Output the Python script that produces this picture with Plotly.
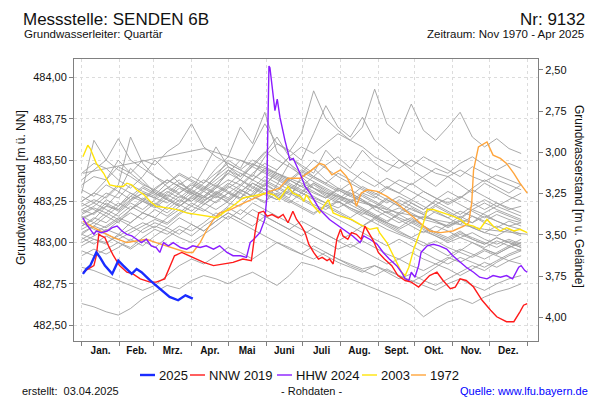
import plotly.graph_objects as go

# ---------------- data ----------------
month_labels = ["Jan.", "Feb.", "Mrz.", "Apr.", "Mai", "Juni", "Juli", "Aug.", "Sept.", "Okt.", "Nov.", "Dez."]
month_mid = [15.5, 45, 74.5, 105, 135.5, 166, 196.5, 227.5, 258, 288.5, 319, 349.5]
month_starts = [0, 31, 59, 90, 120, 151, 181, 212, 243, 273, 304, 334, 365]
level_ticks = [482.50, 482.75, 483.00, 483.25, 483.50, 483.75, 484.00]
depth_ticks = [2.50, 2.75, 3.00, 3.25, 3.50, 3.75, 4.00]
ground_level = 486.547  # Geländehöhe [m ü. NN]

# 2025
y2025_days = [1, 4, 7, 10, 12, 15, 19, 25, 30, 34, 41, 45, 49, 56, 64, 72, 79, 85, 91]
y2025_vals = [482.81, 482.84, 482.86, 482.91, 482.94, 482.91, 482.86, 482.81, 482.89, 482.86,
              482.81, 482.84, 482.82, 482.77, 482.72, 482.67, 482.65, 482.68, 482.66]

# NNW 2019
nnw_days = [1, 5, 10, 12, 14, 16, 19, 22, 26, 31, 37, 42, 48, 56, 61, 68, 72, 76, 82, 91,
            100, 108, 116, 124, 132, 139, 142, 145, 149, 152, 156, 161, 165, 169, 173, 176, 180, 183, 186, 190,
            194, 197, 201, 203, 206, 209, 212, 214, 218, 221, 225, 229, 232, 235, 239, 243, 248, 254, 259, 265,
            270, 276, 280, 285, 291, 296, 302, 306, 310, 315, 321, 328, 335, 340, 348, 354, 359, 362, 365]
nnw_vals = [482.82, 482.84, 482.86, 482.92, 483.05, 483.04, 483.03, 482.98, 482.92, 482.86, 482.82, 482.81, 482.78, 482.76, 482.76, 482.78, 482.85, 482.92, 482.94, 482.91,
            482.88, 482.86, 482.87, 482.88, 482.90, 482.89, 483.06, 483.18, 483.19, 483.16, 483.17, 483.15, 483.17, 483.12, 483.19, 483.14, 483.10, 483.06, 482.99, 482.94,
            482.90, 482.91, 482.89, 482.90, 482.87, 483.02, 483.08, 483.04, 483.02, 483.06, 483.05, 483.02, 483.10, 483.06, 483.01, 482.94, 482.90, 482.86, 482.80, 482.77,
            482.76, 482.73, 482.76, 482.80, 482.82, 482.77, 482.72, 482.73, 482.78, 482.77, 482.73, 482.65, 482.59, 482.55, 482.52, 482.52, 482.58, 482.62, 482.63]

# HHW 2024
hhw_days = [1, 4, 7, 10, 12, 16, 21, 25, 29, 33, 37, 41, 45, 49, 53, 57, 61, 64, 67, 71,
            75, 81, 86, 91, 97, 102, 108, 113, 119, 124, 130, 135, 138, 141, 146, 150, 151.5, 153.4, 154.2, 157,
            158.3, 160.2, 162.4, 166.5, 170.6, 173.3, 178.8, 183, 187, 191, 195, 203, 214, 222, 228, 231, 236, 242, 247, 252,
            258, 262, 265, 268, 270, 273, 276, 278, 283, 288, 293, 299, 304, 310, 315, 321, 326, 332, 337, 343,
            348, 353, 358, 360, 363, 365]
hhw_vals = [483.15, 483.11, 483.08, 483.05, 483.07, 483.06, 483.07, 483.09, 483.10, 483.07, 483.05, 483.04, 483.02, 483.00, 483.02, 482.98, 482.97, 482.94, 483.00, 482.98,
            483.00, 482.97, 482.96, 482.98, 482.97, 482.98, 482.96, 482.98, 482.94, 482.92, 482.92, 482.91, 483.00, 483.02, 483.06, 483.14, 483.26, 484.07, 484.06, 483.88,
            483.80, 483.87, 483.76, 483.62, 483.50, 483.51, 483.42, 483.34, 483.30, 483.25, 483.20, 483.14, 483.08, 483.04, 483.00, 483.04, 483.02, 482.99, 482.94, 482.90,
            482.86, 482.82, 482.78, 482.77, 482.82, 482.79, 482.86, 482.94, 482.98, 482.99, 482.98, 482.96, 482.92, 482.88, 482.85, 482.82, 482.79, 482.78, 482.80, 482.79,
            482.80, 482.78, 482.85, 482.86, 482.83, 482.82]

# 2003
y2003_days = [1, 5, 7, 12, 18, 23, 29, 34, 37, 41, 45, 51, 56, 61, 70, 78, 86, 94, 102, 111,
              116, 122, 127, 132, 138, 145, 152, 157, 162, 169, 173, 179, 182, 184, 190, 195, 198, 202, 206, 212,
              221, 228, 236, 242, 244, 250, 254, 258, 262, 265, 268, 272, 276, 280, 283, 288, 296, 304, 310, 315,
              321, 326, 332, 337, 343, 348, 354, 359, 365]
y2003_vals = [483.52, 483.59, 483.57, 483.48, 483.42, 483.35, 483.34, 483.34, 483.36, 483.35, 483.32, 483.29, 483.25, 483.22, 483.21, 483.20, 483.18, 483.17, 483.16, 483.15,
              483.18, 483.21, 483.24, 483.27, 483.28, 483.29, 483.30, 483.29, 483.26, 483.34, 483.30, 483.28, 483.25, 483.29, 483.22, 483.18, 483.22, 483.26, 483.18, 483.16,
              483.14, 483.11, 483.08, 483.09, 483.06, 483.00, 482.94, 482.88, 482.82, 482.80, 482.85, 482.96, 483.04, 483.12, 483.20, 483.20, 483.18, 483.16, 483.14, 483.11,
              483.10, 483.08, 483.14, 483.10, 483.07, 483.09, 483.07, 483.08, 483.06]

# 1972
y1972_days = [1, 10, 18, 26, 37, 45, 53, 61, 70, 78, 86, 91, 97, 102, 108, 113, 122, 130, 139, 149,
              154, 162, 169, 179, 187, 195, 199, 205, 212, 217, 221, 225, 229, 234, 242, 250, 258, 266, 274, 285,
              294, 304, 313, 317, 319.5, 321, 325, 332, 337, 343, 348, 354, 359, 365]
y1972_vals = [483.13, 483.09, 483.06, 483.03, 483.00, 483.01, 483.02, 483.00, 482.98, 482.96, 482.94, 482.94, 483.00, 483.07, 483.14, 483.18, 483.20, 483.23, 483.26, 483.29,
              483.31, 483.33, 483.39, 483.39, 483.43, 483.48, 483.47, 483.41, 483.44, 483.40, 483.34, 483.22, 483.30, 483.32, 483.31, 483.28, 483.24, 483.19, 483.14, 483.07,
              483.06, 483.07, 483.10, 483.12, 483.24, 483.44, 483.58, 483.61, 483.53, 483.51, 483.48, 483.42, 483.36, 483.30]

# übrige Jahre (grau), Werte alle 10 Tage
gray_days = [0, 10, 20, 30, 40, 50, 60, 70, 80, 90, 100, 110, 120, 130, 140, 150, 160, 170, 180, 190,
             200, 210, 220, 230, 240, 250, 260, 270, 280, 290, 300, 310, 320, 330, 340, 350, 360]
gray_01 = [483.20, 483.24, 483.30, 483.27, 483.35, 483.31, 483.28, 483.33, 483.38, 483.30, 483.26, 483.29, 483.24, 483.22, 483.30, 483.36, 483.31, 483.27, 483.40, 483.45,
           483.38, 483.33, 483.30, 483.26, 483.22, 483.27, 483.24, 483.20, 483.17, 483.22, 483.18, 483.14, 483.12, 483.16, 483.13, 483.10, 483.08]
gray_02 = [483.42, 483.48, 483.45, 483.38, 483.33, 483.40, 483.50, 483.43, 483.36, 483.31, 483.28, 483.34, 483.30, 483.26, 483.29, 483.35, 483.42, 483.38, 483.34, 483.30,
           483.27, 483.32, 483.28, 483.25, 483.22, 483.18, 483.21, 483.17, 483.14, 483.12, 483.10, 483.13, 483.09, 483.06, 483.04, 483.08, 483.05]
gray_03 = [482.63, 482.61, 482.58, 482.56, 482.60, 482.66, 482.70, 482.74, 482.72, 482.77, 482.80, 482.78, 482.75, 482.79, 482.82, 482.78, 482.74, 482.80, 482.88, 482.86,
           482.83, 482.80, 482.78, 482.75, 482.72, 482.69, 482.66, 482.62, 482.55, 482.60, 482.64, 482.66, 482.63, 482.67, 482.70, 482.72, 482.75]
gray_04 = [482.85, 482.83, 482.80, 482.77, 482.74, 482.71, 482.74, 482.80, 482.86, 482.90, 482.87, 482.92, 482.97, 482.94, 482.90, 482.95, 483.00, 482.96, 482.93, 482.98,
           482.94, 482.90, 482.87, 482.84, 482.86, 482.83, 482.80, 482.77, 482.74, 482.71, 482.75, 482.78, 482.74, 482.71, 482.75, 482.78, 482.80]
gray_05 = [483.10, 483.14, 483.22, 483.30, 483.45, 483.38, 483.30, 483.26, 483.22, 483.28, 483.24, 483.20, 483.25, 483.32, 483.28, 483.24, 483.35, 483.48, 483.40, 483.33,
           483.28, 483.24, 483.30, 483.26, 483.20, 483.16, 483.12, 483.15, 483.10, 483.06, 483.03, 483.07, 483.02, 482.99, 483.03, 483.00, 482.97]
gray_06 = [483.30, 483.62, 483.50, 483.44, 483.40, 483.35, 483.32, 483.38, 483.34, 483.30, 483.27, 483.33, 483.44, 483.38, 483.33, 483.29, 483.26, 483.31, 483.27, 483.23,
           483.20, 483.25, 483.21, 483.18, 483.15, 483.19, 483.15, 483.12, 483.16, 483.13, 483.10, 483.14, 483.20, 483.17, 483.13, 483.10, 483.12]
gray_07 = [483.15, 483.18, 483.22, 483.20, 483.26, 483.30, 483.27, 483.24, 483.30, 483.36, 483.32, 483.40, 483.50, 483.45, 483.58, 483.72, 483.60, 483.55, 483.66, 483.92,
           483.75, 483.68, 483.62, 483.58, 483.52, 483.48, 483.45, 483.50, 483.46, 483.42, 483.40, 483.44, 483.40, 483.37, 483.41, 483.38, 483.35]
gray_08 = [483.05, 483.10, 483.16, 483.12, 483.20, 483.25, 483.22, 483.18, 483.24, 483.30, 483.27, 483.33, 483.38, 483.35, 483.42, 483.48, 483.44, 483.52, 483.58, 483.54,
           483.60, 483.66, 483.62, 483.70, 483.93, 483.72, 483.66, 483.84, 483.68, 483.62, 483.70, 483.79, 483.64, 483.58, 483.63, 483.57, 483.54]
gray_09 = [483.20, 483.17, 483.24, 483.20, 483.28, 483.25, 483.32, 483.28, 483.35, 483.40, 483.36, 483.45, 483.52, 483.70, 483.60, 483.79, 483.55, 483.48, 483.42, 483.50,
           483.45, 483.40, 483.36, 483.43, 483.38, 483.33, 483.30, 483.36, 483.31, 483.27, 483.24, 483.28, 483.24, 483.20, 483.24, 483.21, 483.18]
gray_10 = [483.25, 483.30, 483.27, 483.34, 483.30, 483.26, 483.33, 483.38, 483.34, 483.30, 483.36, 483.42, 483.48, 483.44, 483.40, 483.52, 483.60, 483.56, 483.50, 483.66,
           483.83, 483.70, 483.64, 483.76, 483.62, 483.56, 483.50, 483.46, 483.52, 483.48, 483.44, 483.40, 483.46, 483.42, 483.38, 483.35, 483.32]
gray_11 = [483.35, 483.40, 483.38, 483.46, 483.42, 483.50, 483.47, 483.55, 483.60, 483.72, 483.58, 483.52, 483.48, 483.44, 483.50, 483.46, 483.42, 483.38, 483.34, 483.40,
           483.36, 483.32, 483.28, 483.34, 483.30, 483.26, 483.22, 483.26, 483.22, 483.18, 483.15, 483.19, 483.16, 483.13, 483.17, 483.14, 483.12]
gray_13 = [483.00, 483.04, 483.08, 483.05, 483.12, 483.18, 483.15, 483.22, 483.28, 483.25, 483.32, 483.38, 483.44, 483.40, 483.46, 483.42, 483.38, 483.34, 483.30, 483.26,
           483.22, 483.25, 483.20, 483.16, 483.12, 483.08, 483.05, 483.02, 482.98, 483.01, 482.97, 482.94, 482.91, 482.95, 482.92, 482.89, 482.87]
gray_14 = [483.12, 483.08, 483.05, 483.02, 483.06, 483.10, 483.14, 483.11, 483.17, 483.22, 483.19, 483.25, 483.30, 483.27, 483.36, 483.32, 483.28, 483.24, 483.30, 483.36,
           483.31, 483.27, 483.23, 483.19, 483.15, 483.11, 483.07, 483.03, 483.00, 482.96, 482.92, 482.96, 482.93, 482.90, 482.94, 482.98, 483.02]
gray_15 = [482.95, 482.92, 482.96, 483.00, 482.97, 483.03, 483.08, 483.05, 483.10, 483.07, 483.12, 483.18, 483.14, 483.20, 483.16, 483.12, 483.08, 483.04, 483.00, 482.96,
           482.92, 482.88, 482.85, 482.82, 482.86, 482.82, 482.78, 482.81, 482.77, 482.74, 482.78, 482.82, 482.86, 482.83, 482.88, 482.92, 482.95]
gray_16 = [483.28, 483.24, 483.20, 483.16, 483.22, 483.18, 483.15, 483.12, 483.18, 483.24, 483.20, 483.16, 483.22, 483.30, 483.26, 483.33, 483.29, 483.25, 483.21, 483.17,
           483.23, 483.19, 483.15, 483.20, 483.16, 483.12, 483.09, 483.14, 483.10, 483.06, 483.11, 483.16, 483.12, 483.18, 483.22, 483.26, 483.30]
gray_17 = [483.38, 483.44, 483.50, 483.63, 483.50, 483.45, 483.40, 483.36, 483.42, 483.38, 483.34, 483.30, 483.36, 483.32, 483.28, 483.25, 483.30, 483.26, 483.22, 483.18,
           483.22, 483.18, 483.14, 483.10, 483.14, 483.10, 483.06, 483.03, 483.07, 483.04, 483.00, 483.03, 483.00, 482.97, 483.01, 482.98, 482.95]
gray_18 = [483.18, 483.22, 483.28, 483.35, 483.64, 483.48, 483.40, 483.34, 483.30, 483.35, 483.31, 483.27, 483.33, 483.38, 483.34, 483.30, 483.26, 483.32, 483.38, 483.33,
           483.29, 483.25, 483.21, 483.17, 483.22, 483.18, 483.14, 483.10, 483.06, 483.10, 483.07, 483.03, 483.06, 483.02, 482.99, 483.02, 482.99]
gray_19 = [483.05, 483.02, 483.00, 483.04, 483.08, 483.12, 483.09, 483.15, 483.20, 483.17, 483.23, 483.28, 483.25, 483.31, 483.36, 483.32, 483.28, 483.34, 483.30, 483.27,
           483.24, 483.21, 483.25, 483.30, 483.27, 483.33, 483.38, 483.35, 483.40, 483.45, 483.42, 483.48, 483.52, 483.47, 483.44, 483.48, 483.45]
gray_20 = [483.22, 483.26, 483.23, 483.19, 483.25, 483.30, 483.27, 483.33, 483.29, 483.25, 483.31, 483.36, 483.42, 483.38, 483.47, 483.55, 483.50, 483.46, 483.41, 483.37,
           483.33, 483.29, 483.25, 483.20, 483.16, 483.12, 483.08, 483.12, 483.08, 483.04, 483.01, 483.05, 483.02, 482.99, 483.03, 483.00, 482.97]
gray_21 = [483.08, 483.12, 483.09, 483.14, 483.10, 483.06, 483.10, 483.07, 483.03, 483.00, 483.05, 483.10, 483.16, 483.12, 483.08, 483.04, 483.00, 482.97, 482.93, 482.90,
           482.94, 482.90, 482.86, 482.83, 482.80, 482.84, 482.80, 482.76, 482.80, 482.85, 482.90, 482.95, 483.00, 482.96, 482.93, 482.97, 483.00]
gray_23 = [483.14, 483.18, 483.26, 483.22, 483.30, 483.26, 483.22, 483.29, 483.25, 483.32, 483.28, 483.35, 483.31, 483.27, 483.33, 483.40, 483.36, 483.32, 483.28, 483.35,
           483.30, 483.26, 483.32, 483.28, 483.24, 483.20, 483.26, 483.22, 483.18, 483.23, 483.19, 483.15, 483.20, 483.24, 483.20, 483.17, 483.14]
gray_24 = [483.02, 483.06, 483.10, 483.15, 483.12, 483.18, 483.24, 483.20, 483.26, 483.22, 483.28, 483.24, 483.30, 483.35, 483.31, 483.38, 483.34, 483.30, 483.26, 483.22,
           483.18, 483.14, 483.10, 483.06, 483.02, 482.98, 483.02, 482.98, 482.94, 482.90, 482.87, 482.91, 482.88, 482.85, 482.89, 482.93, 482.96]
gray_25 = [483.24, 483.20, 483.16, 483.22, 483.28, 483.34, 483.30, 483.26, 483.22, 483.28, 483.33, 483.29, 483.35, 483.42, 483.38, 483.34, 483.44, 483.52, 483.46, 483.40,
           483.36, 483.42, 483.38, 483.33, 483.29, 483.34, 483.30, 483.26, 483.31, 483.27, 483.23, 483.27, 483.32, 483.28, 483.24, 483.20, 483.22]
gray_26 = [483.06, 483.10, 483.07, 483.13, 483.18, 483.14, 483.20, 483.16, 483.22, 483.27, 483.23, 483.29, 483.34, 483.30, 483.38, 483.44, 483.40, 483.36, 483.32, 483.28,
           483.24, 483.29, 483.25, 483.21, 483.17, 483.13, 483.17, 483.13, 483.09, 483.05, 483.02, 483.06, 483.03, 483.00, 482.97, 483.01, 482.98]
gray_27 = [483.32, 483.28, 483.35, 483.31, 483.26, 483.33, 483.29, 483.36, 483.41, 483.37, 483.33, 483.40, 483.46, 483.42, 483.38, 483.45, 483.41, 483.37, 483.43, 483.39,
           483.35, 483.31, 483.36, 483.32, 483.28, 483.24, 483.28, 483.24, 483.20, 483.25, 483.21, 483.17, 483.22, 483.26, 483.22, 483.19, 483.16]
gray_28 = [482.98, 483.02, 482.99, 483.05, 483.01, 483.08, 483.12, 483.09, 483.15, 483.11, 483.07, 483.13, 483.18, 483.14, 483.10, 483.16, 483.12, 483.08, 483.04, 483.09,
           483.05, 483.01, 482.97, 483.01, 482.97, 482.93, 482.90, 482.94, 482.90, 482.87, 482.91, 482.88, 482.92, 482.96, 482.93, 482.97, 483.00]
gray_29 = [483.10, 483.15, 483.12, 483.18, 483.24, 483.20, 483.26, 483.31, 483.27, 483.33, 483.38, 483.34, 483.42, 483.50, 483.46, 483.54, 483.64, 483.52, 483.47, 483.42,
           483.56, 483.48, 483.43, 483.38, 483.34, 483.39, 483.35, 483.31, 483.27, 483.23, 483.27, 483.23, 483.19, 483.15, 483.19, 483.16, 483.13]
gray_30 = [483.16, 483.12, 483.18, 483.14, 483.20, 483.25, 483.21, 483.27, 483.23, 483.19, 483.25, 483.30, 483.26, 483.32, 483.28, 483.35, 483.31, 483.38, 483.44, 483.40,
           483.47, 483.52, 483.45, 483.56, 483.48, 483.43, 483.50, 483.44, 483.39, 483.34, 483.40, 483.35, 483.30, 483.36, 483.32, 483.28, 483.25]
gray_31 = [483.03, 482.99, 483.04, 483.00, 482.96, 483.01, 482.97, 483.03, 483.08, 483.04, 483.10, 483.15, 483.21, 483.17, 483.24, 483.20, 483.16, 483.12, 483.08, 483.04,
           483.00, 482.96, 482.99, 482.95, 482.91, 482.87, 482.90, 482.86, 482.83, 482.87, 482.84, 482.80, 482.84, 482.88, 482.85, 482.89, 482.92]
gray_32 = [483.25, 483.30, 483.38, 483.50, 483.42, 483.36, 483.31, 483.27, 483.33, 483.29, 483.25, 483.31, 483.27, 483.34, 483.41, 483.37, 483.33, 483.29, 483.35, 483.31,
           483.27, 483.33, 483.29, 483.25, 483.21, 483.26, 483.22, 483.18, 483.14, 483.19, 483.15, 483.11, 483.16, 483.12, 483.09, 483.13, 483.10]
gray_33 = [482.92, 482.96, 482.93, 482.97, 483.02, 482.98, 483.04, 483.09, 483.05, 483.11, 483.07, 483.13, 483.18, 483.14, 483.20, 483.16, 483.12, 483.08, 483.13, 483.09,
           483.05, 483.01, 483.05, 483.10, 483.15, 483.12, 483.18, 483.24, 483.20, 483.26, 483.31, 483.27, 483.33, 483.38, 483.34, 483.30, 483.35]
gray_34 = [483.17, 483.21, 483.18, 483.24, 483.20, 483.27, 483.23, 483.30, 483.36, 483.32, 483.44, 483.58, 483.46, 483.40, 483.48, 483.43, 483.39, 483.35, 483.31, 483.36,
           483.32, 483.28, 483.24, 483.29, 483.25, 483.21, 483.17, 483.21, 483.17, 483.13, 483.09, 483.13, 483.09, 483.06, 483.10, 483.07, 483.04]
gray_sparse_days = [1, 100, 150, 200, 260, 330, 365]
gray_sparse_vals = [483.42, 483.57, 483.45, 483.30, 483.18, 483.08, 483.05]

gray_series = [gray_01, gray_02, gray_03, gray_04, gray_05, gray_06, gray_07, gray_08, gray_09, gray_10,
               gray_11, gray_13, gray_14, gray_15, gray_16, gray_17, gray_18, gray_19, gray_20, gray_21,
               gray_23, gray_24, gray_25, gray_26, gray_27, gray_28, gray_29, gray_30, gray_31, gray_32,
               gray_33, gray_34]

legend_names = ["2025", "NNW 2019", "HHW 2024", "2003", "1972"]
legend_colors = ["#1a2cff", "#ff1a1a", "#8a1cff", "#ffe40a", "#ffa53c"]

# ---------------- figure ----------------
FONT = "Liberation Sans, Arial, sans-serif"
GRAY = "#a0a0a0"
fig = go.Figure()

for vals in gray_series:
    fig.add_trace(go.Scatter(x=gray_days, y=vals, mode="lines", line=dict(color=GRAY, width=0.9),
                             showlegend=False, hoverinfo="skip"))
fig.add_trace(go.Scatter(x=gray_sparse_days, y=gray_sparse_vals, mode="lines", line=dict(color=GRAY, width=0.9),
                         showlegend=False, hoverinfo="skip"))

fig.add_trace(go.Scatter(x=y1972_days, y=y1972_vals, mode="lines", name="1972",
                         line=dict(color=legend_colors[4], width=1.4)))
fig.add_trace(go.Scatter(x=y2003_days, y=y2003_vals, mode="lines", name="2003",
                         line=dict(color=legend_colors[3], width=1.4)))
fig.add_trace(go.Scatter(x=hhw_days, y=hhw_vals, mode="lines", name="HHW 2024",
                         line=dict(color=legend_colors[2], width=1.4)))
fig.add_trace(go.Scatter(x=nnw_days, y=nnw_vals, mode="lines", name="NNW 2019",
                         line=dict(color=legend_colors[1], width=1.4)))
fig.add_trace(go.Scatter(x=y2025_days, y=y2025_vals, mode="lines", name="2025",
                         line=dict(color=legend_colors[0], width=2.4)))
# trace on the right-hand depth axis (Flurabstand)
fig.add_trace(go.Scatter(x=[y2025_days[0]], y=[ground_level - y2025_vals[0]], yaxis="y2", mode="lines",
                         line=dict(width=0), showlegend=False, hoverinfo="skip"))

y_lo, y_hi = 482.403, 484.113
grid = dict(showgrid=True, gridcolor="#dcdcdc", gridwidth=1, griddash="3px,3px")

# page has an 8px body margin -> figure 592x392, plot box at 74..538 x 59..341 on screen
fig.update_layout(
    width=592, height=392,
    margin=dict(l=66, r=62, t=51, b=59),
    paper_bgcolor="white", plot_bgcolor="white",
    separators=",.",
    font=dict(family=FONT, size=11, color="#111"),
    showlegend=False,
    xaxis=dict(range=[-6.3, 373.8], tickmode="array", tickvals=month_mid, ticktext=month_labels,
               ticks="", showgrid=False, zeroline=False, showline=True, linecolor="#808080", mirror=True,
               tickfont=dict(family=FONT, size=10, color="#111", weight="bold"),
               minor=dict(tickmode="array", tickvals=month_starts, ticks="outside", ticklen=4,
                          tickcolor="#808080", **grid)),
    yaxis=dict(range=[y_lo, y_hi], tickmode="array", tickvals=level_ticks, tickformat=".2f",
               ticks="outside", ticklen=4, tickcolor="#808080", zeroline=False,
               showline=True, linecolor="#808080", mirror=True, tickfont=dict(size=11), **grid),
    yaxis2=dict(overlaying="y", side="right", range=[ground_level - y_lo, ground_level - y_hi],
                tickmode="array", tickvals=depth_ticks, tickformat=".2f", ticks="outside", ticklen=4,
                tickcolor="#808080", showgrid=False, zeroline=False, showline=True, linecolor="#808080",
                tickfont=dict(size=11)),
)

W, H = 464.0, 282.0
def px(x):
    return (x - 74) / W
def py(y):
    return (341 - y) / H

ann = [
    dict(text="Messstelle: SENDEN 6B", x=px(22), y=py(8.5), xanchor="left", yanchor="top", borderpad=0, font=dict(size=17)),
    dict(text="Nr: 9132", x=px(586), y=py(8.5), xanchor="right", yanchor="top", borderpad=0, font=dict(size=17)),
    dict(text="Grundwasserleiter: Quartär", x=px(22), y=py(34), xanchor="left", yanchor="middle", font=dict(size=11.5)),
    dict(text="Zeitraum: Nov 1970 - Apr 2025", x=px(586), y=py(34), xanchor="right", yanchor="middle", font=dict(size=11.5)),
    dict(text="Grundwasserstand [m ü. NN]", x=px(21), y=py(188), textangle=-90, xanchor="center", yanchor="middle", font=dict(size=12)),
    dict(text="Grundwasserstand [m u. Gelände]", x=px(579), y=py(196), textangle=90, xanchor="center", yanchor="middle", font=dict(size=12)),
    dict(text="erstellt:\u00a0 03.04.2025", x=px(20), y=py(391), xanchor="left", yanchor="middle", font=dict(size=11)),
    dict(text="- Rohdaten -", x=px(311), y=py(391), xanchor="center", yanchor="middle", font=dict(size=11)),
    dict(text="Quelle: www.lfu.bayern.de", x=px(590), y=py(391), xanchor="right", yanchor="middle", font=dict(size=11, color="#0000ff")),
]

# legend drawn as short line samples + labels
leg_line_x = [140, 190, 277, 362, 411]
shapes = []
for name, col, lx in zip(legend_names, legend_colors, leg_line_x):
    shapes.append(dict(type="line", xref="paper", yref="paper", x0=px(lx), x1=px(lx + 15), y0=py(375), y1=py(375),
                       line=dict(color=col, width=2.4 if name == "2025" else 1.4)))
    ann.append(dict(text=name, x=px(lx + 17), y=py(375), xanchor="left", yanchor="middle", font=dict(size=13)))

for a in ann:
    a.update(xref="paper", yref="paper", showarrow=False)
fig.update_layout(annotations=ann, shapes=shapes)

fig.write_html("out.html")
